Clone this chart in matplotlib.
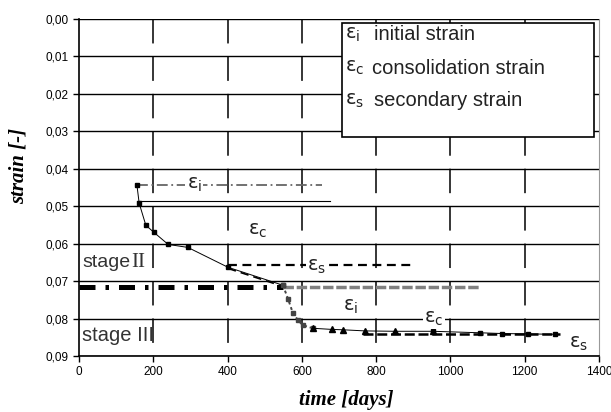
import matplotlib.pyplot as plt
from matplotlib.patches import Rectangle

# measured settlement curve (time in days, strain)
days_a = [156, 162, 180, 202, 240, 293, 401, 549]
strain_a = [0.0444, 0.0492, 0.0551, 0.0570, 0.0602, 0.0610, 0.0663, 0.0711]
days_b = [549, 563, 576, 590, 603, 630]
strain_b = [0.0711, 0.0748, 0.0786, 0.0805, 0.0818, 0.0826]
days_c = [630, 681, 711, 770, 850, 953]
strain_c = [0.0826, 0.0829, 0.0830, 0.0833, 0.0834, 0.0834]
days_d = [953, 1080, 1139, 1209, 1282]
strain_d = [0.0834, 0.0838, 0.0840, 0.0841, 0.0842]

# construction lines
eps_i_top = ([156, 655], [0.0444, 0.0444])
thin_top = ([156, 676], [0.0487, 0.0487])
eps_s_mid = ([401, 905], [0.0658, 0.0658])
eps_s_slope = ([401, 549], [0.0666, 0.0714])
stage_line = ([0, 550], [0.0717, 0.0717])
gray_mid = ([550, 1080], [0.0717, 0.0717])
eps_s_low = ([765, 1295], [0.0842, 0.0842])

xticks = [0, 200, 400, 600, 800, 1000, 1200, 1400]
yticks = [0.00, 0.01, 0.02, 0.03, 0.04, 0.05, 0.06, 0.07, 0.08, 0.09]

fig = plt.figure(figsize=(6.11, 4.12), dpi=100)
ax = fig.add_axes([79/611, 1-356/412, 520/611, 337/412])
ax.set_xlim(0, 1400)
ax.set_ylim(0.09, 0.0)

# grid: solid horizontal, dashed vertical (dashes start at the top)
for y in yticks:
    ax.axhline(y, color='black', lw=1.0, zorder=1)
for x in xticks[1:-1]:
    ax.plot([x, x], [0.0, 0.09], color='black', lw=1.1, ls=(0, (16, 8.5)), zorder=1)

ax.plot(*stage_line, color='black', lw=3.6, ls=(0, (3.2, 2, 0.7, 2)), zorder=3)
ax.plot(*gray_mid, color='#808080', lw=2.5, ls=(0, (3, 0.8)), zorder=3)
ax.plot(*eps_i_top, color='#666666', lw=1.3, ls=(0, (6, 2, 1, 2)), zorder=3)
ax.plot(*thin_top, color='black', lw=0.8, zorder=3)
ax.plot(*eps_s_mid, color='black', lw=1.6, ls=(0, (4, 2.5)), zorder=3)
ax.plot(*eps_s_slope, color='black', lw=1.2, ls=(0, (5, 3)), zorder=3)
ax.plot(*eps_s_low, color='black', lw=1.8, ls=(0, (4, 1.5)), zorder=3)

ax.plot(days_a, strain_a, color='black', lw=0.7, marker='s', ms=3.5, zorder=4)
ax.plot(days_b, strain_b, color='#444444', lw=1.4, ls=(0, (1.5, 1.5)),
        marker='s', ms=3, zorder=4)
ax.plot(days_c, strain_c, color='black', lw=0.7, marker='^', ms=4, zorder=4)
ax.plot(days_d, strain_d, color='black', lw=0.7, marker='s', ms=3.5, zorder=4)

# labels on the chart
box = dict(facecolor='white', edgecolor='none', pad=1)
lab = dict(family='DejaVu Sans', fontsize=14, color='#222222', zorder=5)
ax.text(310, 0.0441, 'ε$_{\\mathrm{i}}$', ha='center', va='center', bbox=box, **lab)
ax.text(482, 0.0565, 'ε$_{\\mathrm{c}}$', ha='center', va='center', bbox=box, **lab)
ax.text(640, 0.0660, 'ε$_{\\mathrm{s}}$', ha='center', va='center', bbox=box, **lab)
ax.text(730, 0.0768, 'ε$_{\\mathrm{i}}$', ha='center', va='center', **lab)
ax.text(955, 0.0800, 'ε$_{\\mathrm{c}}$', ha='center', va='center', bbox=box, **lab)
ax.text(1345, 0.0866, 'ε$_{\\mathrm{s}}$', ha='center', va='center', **lab)

ax.text(8, 0.0650, 'stage', fontsize=14, family='Liberation Sans',
        color='#333333', va='center', zorder=5)
ax.text(140, 0.0650, 'II', fontsize=15, family='Liberation Serif',
        color='#333333', va='center', zorder=5)
ax.text(8, 0.0845, 'stage III', fontsize=14.5, family='Liberation Sans',
        color='#333333', va='center', zorder=5)

# axes styling
ax.set_xticks(xticks)
ax.set_yticks(yticks)
ax.set_xticklabels([str(v) for v in xticks])
ax.set_yticklabels([f'{v:.2f}'.replace('.', ',') for v in yticks])
ax.tick_params(labelsize=8.5, length=4, width=1, direction='out', colors='black')
for lbl in ax.get_xticklabels() + ax.get_yticklabels():
    lbl.set_family('Liberation Sans')
ax.spines['top'].set_visible(False)
ax.spines['right'].set_color('#999999')
ax.spines['left'].set_linewidth(1.2)
ax.spines['bottom'].set_linewidth(1.2)

fig.text(346/611, 1-400/412, 'time [days]', family='Liberation Serif', fontsize=15,
         weight='bold', style='italic', ha='center', va='center')
fig.text(19/611, 1-166/412, 'strain [-]', family='Liberation Serif', fontsize=15,
         weight='bold', style='italic', rotation=90, ha='center', va='center')

# legend box
fig.patches.append(Rectangle((342/611, 1-137/412), 252/611, 114/412,
                             transform=fig.transFigure, facecolor='white',
                             edgecolor='black', lw=1.2, zorder=6))
legend_rows = [('ε$_{\\mathrm{i}}$', 'initial strain', 35, 374),
               ('ε$_{\\mathrm{c}}$', 'consolidation strain', 68, 372),
               ('ε$_{\\mathrm{s}}$', 'secondary strain', 101, 374)]
for sym, txt, ypix, xpix in legend_rows:
    fig.text(345/611, 1-ypix/412, sym, fontsize=14, family='DejaVu Sans',
             color='#222222', va='center', zorder=7)
    fig.text(xpix/611, 1-ypix/412, txt, fontsize=14.5, family='Liberation Sans',
             color='#222222', va='center', zorder=7)

fig.savefig('out.png', dpi=100)
